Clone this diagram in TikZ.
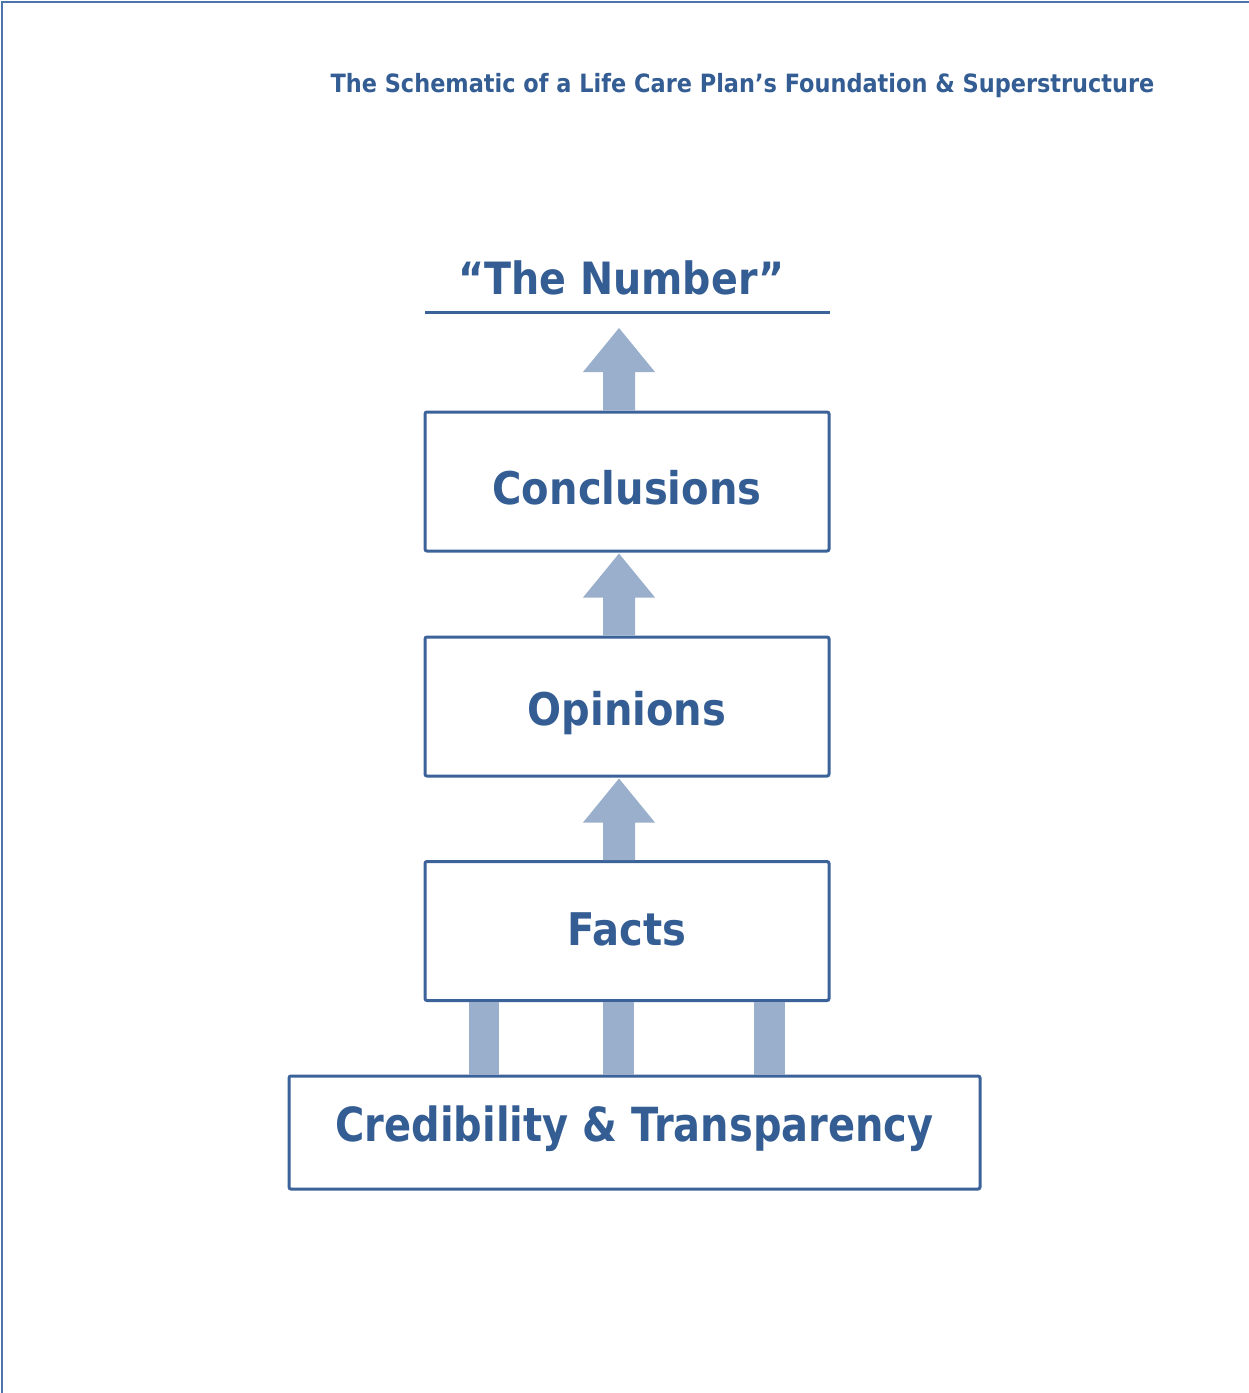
\documentclass[tikz,border=0pt]{standalone}
\usepackage{fontspec}
\setmainfont{DejaVu Sans}[FakeStretch=0.89]
\usetikzlibrary{calc}
\definecolor{framec}{HTML}{4A74AA}
\definecolor{boxc}{HTML}{3B6399}
\definecolor{textc}{HTML}{335D93}
\definecolor{arrowc}{HTML}{9AAFCB}
\tikzset{
  lvlbox/.style={draw=boxc, line width=3pt, rounded corners=2pt, fill=white,
    minimum width=404pt, minimum height=139pt, inner sep=0pt,
    text height=32.8pt, text depth=0pt,
    text=textc, font=\fontsize{45}{50}\selectfont\bfseries},
  bigarrow/.style={fill=arrowc},
  pillar/.style={fill=arrowc},
}
\begin{document}
\begin{tikzpicture}[x=1pt,y=-1pt]
\useasboundingbox (0,0) rectangle (1249,1393);
% frame
\draw[framec, line width=2pt] (2,1393) -- (2,2) -- (1249,2);
% title
\node[text=textc, font=\fontsize{25.2}{30}\selectfont\bfseries, anchor=base] (title) at (742.5,92) {The Schematic of a Life Care Plan’s Foundation \& Superstructure};
% the number
\node[text=textc, font=\fontsize{44.5}{50}\selectfont\bfseries, anchor=base] (num) at (621.5,294) {“The Number”};
\draw[boxc, line width=3pt] (425,312) coordinate (ulL) -- (830,312) coordinate (ulR);
\coordinate (tip1) at (619,328);
% boxes
\node[lvlbox] (conc) at (627,481.5) {\raisebox{-7pt}{Conclusions}};
\node[lvlbox] (opin) at (627,706.5) {\raisebox{-3pt}{Opinions}};
\node[lvlbox] (facts) at (627,931) {\raisebox{1.5pt}{Facts}};
\node[lvlbox, minimum width=691pt, minimum height=113pt, text height=35pt,
  font=\fontsize{47}{52}\selectfont\bfseries] (cred) at (634.5,1132.5)
  {\raisebox{9pt}{\addfontfeature{FakeStretch=0.85}Credibility \& Transparency}};
% tips of the arrows
\coordinate (tip2) at ($(conc.south)+(-8,1)$);
\coordinate (tip3) at ($(opin.south)+(-8,1)$);
% arrows
\foreach \lo/\hi in {conc/tip1, opin/tip2, facts/tip3}{
  \fill[bigarrow] ($(\lo.north)+(-24,0)$) -- ($(\hi)+(-16,44)$) -- ($(\hi)+(-36,44)$)
     -- (\hi) -- ($(\hi)+(36,44)$) -- ($(\hi)+(16,44)$) -- ($(\lo.north)+(8,0)$) -- cycle;
}
% pillars
\foreach \dx in {-143,-8.5,142.5}{
  \fill[pillar] ($(facts.south)+(\dx-15.5,0)$) rectangle ($(cred.north)+(\dx+7.5,0)$);
}
\end{tikzpicture}
\end{document}
